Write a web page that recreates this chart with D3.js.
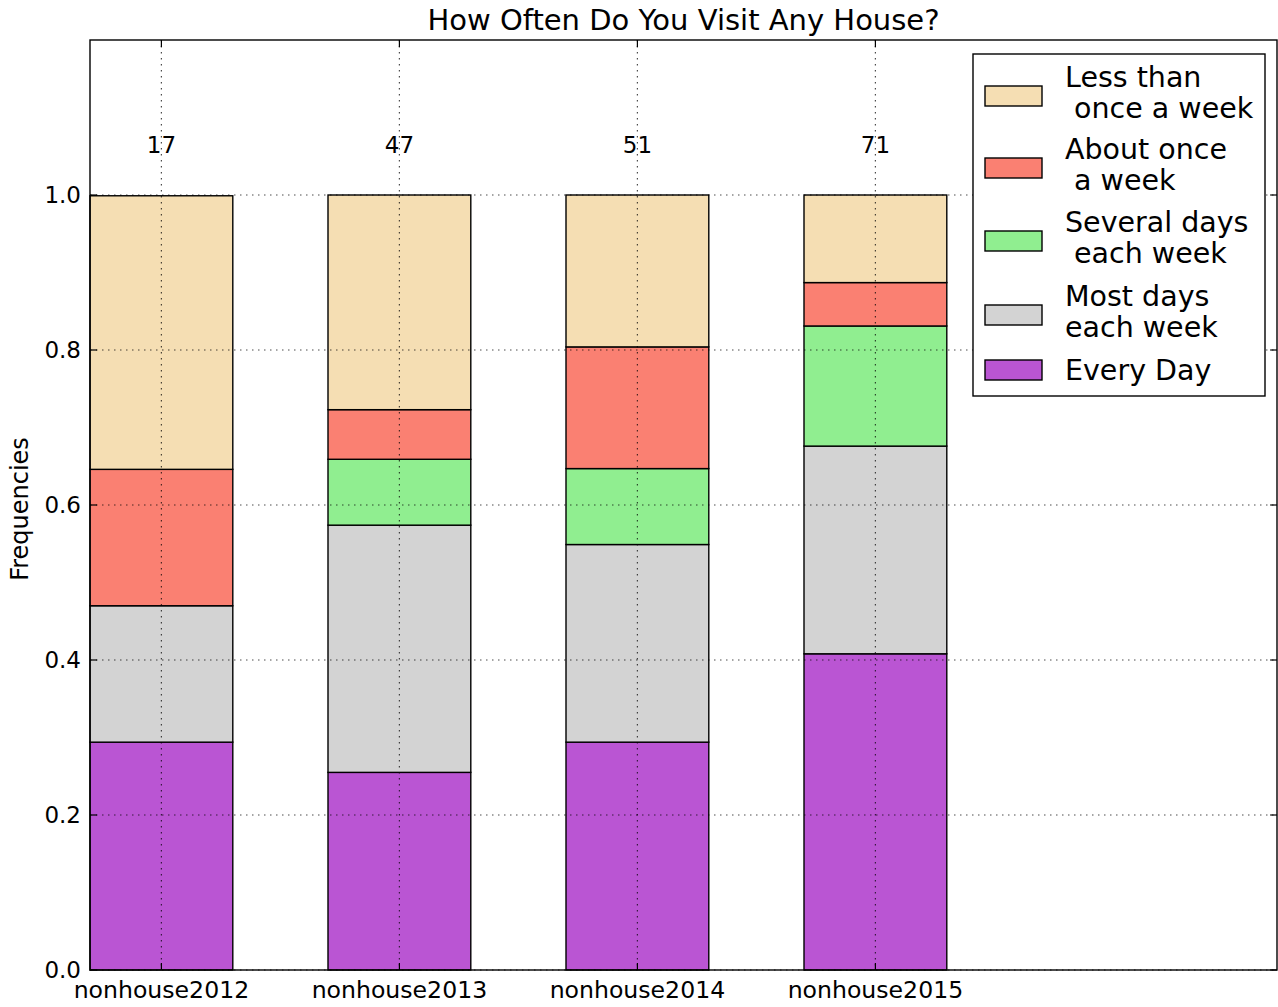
<!DOCTYPE html>
<html><head><meta charset="utf-8">
<script src="https://cdn.jsdelivr.net/npm/d3@7"></script>
<style>body{margin:0;background:#fff}</style>
</head><body>
<svg id="c" width="1278" height="1007"></svg>
<script>
const categories = ["nonhouse2012","nonhouse2013","nonhouse2014","nonhouse2015"];
const counts = [17, 47, 51, 71];
const seriesNames = ["Every Day","Most days\neach week","Several days\n each week","About once\n a week","Less than\n once a week"];
const everyDay    = [0.294, 0.255, 0.294, 0.408];
const mostDays    = [0.176, 0.319, 0.255, 0.268];
const severalDays = [0.000, 0.085, 0.098, 0.155];
const aboutOnce   = [0.176, 0.064, 0.157, 0.056];
const lessThan    = [0.353, 0.277, 0.196, 0.113];
const colors = ["#BA55D3","#D3D3D3","#90EE90","#FA8072","#F5DEB3"];
const yTicks = [0.0,0.2,0.4,0.6,0.8,1.0];

const series = [everyDay, mostDays, severalDays, aboutOnce, lessThan];
const svg = d3.select("#c");
const L=90, R=1277, T=40, B=970;
const x = d3.scaleLinear().domain([0,5]).range([L,L+238*5]);
const y = d3.scaleLinear().domain([0,1.2]).range([B,T]);
const font = "DejaVu Sans, sans-serif";
const barW = 0.6;

// bars
const g = svg.append("g");
categories.forEach((c,i)=>{
  let base = 0;
  series.forEach((s,k)=>{
    const v = s[i];
    if (v > 0) {
      g.append("rect")
        .attr("x", x(i)).attr("width", x(i+barW)-x(i))
        .attr("y", y(base+v)).attr("height", y(base)-y(base+v))
        .attr("fill", colors[k]).attr("stroke","#000").attr("stroke-width",1.4);
    }
    base += v;
  });
});

// grid (on top)
const grid = svg.append("g").attr("stroke","#000").attr("stroke-opacity",0.7).attr("stroke-width",1.2).attr("stroke-dasharray","1.5,4.5");
categories.forEach((c,i)=>{
  grid.append("line").attr("x1",x(i+barW/2)).attr("x2",x(i+barW/2)).attr("y1",T).attr("y2",B);
});
yTicks.forEach(t=>{
  grid.append("line").attr("x1",L).attr("x2",R).attr("y1",y(t)).attr("y2",y(t));
});

// axes frame
svg.append("rect").attr("x",L).attr("y",T).attr("width",R-L).attr("height",B-T)
  .attr("fill","none").attr("stroke","#000").attr("stroke-width",1.4);

// ticks (inward on all sides)
const tk = svg.append("g").attr("stroke","#000").attr("stroke-width",1.2);
yTicks.forEach(t=>{
  tk.append("line").attr("x1",L).attr("x2",L+7).attr("y1",y(t)).attr("y2",y(t));
  tk.append("line").attr("x1",R-7).attr("x2",R).attr("y1",y(t)).attr("y2",y(t));
});
categories.forEach((c,i)=>{
  const cx = x(i+barW/2);
  tk.append("line").attr("x1",cx).attr("x2",cx).attr("y1",B).attr("y2",B-7);
  tk.append("line").attr("x1",cx).attr("x2",cx).attr("y1",T).attr("y2",T+7);
});

// y tick labels
yTicks.forEach(t=>{
  svg.append("text").attr("x",L-9).attr("y",y(t)).attr("dy","0.35em")
    .attr("text-anchor","end").attr("font-family",font).attr("font-size",23)
    .attr("fill","#000").text(t.toFixed(1));
});
// x tick labels
categories.forEach((c,i)=>{
  svg.append("text").attr("x",x(i+barW/2)).attr("y",990).attr("dy","0.35em")
    .attr("text-anchor","middle").attr("font-family",font).attr("font-size",23.6)
    .attr("fill","#000").text(c);
});
// counts
categories.forEach((c,i)=>{
  svg.append("text").attr("x",x(i+barW/2)).attr("y",145).attr("dy","0.35em")
    .attr("text-anchor","middle").attr("font-family",font).attr("font-size",23)
    .attr("fill","#000").text(counts[i]);
});
// title
svg.append("text").attr("x",(L+R)/2).attr("y",20).attr("dy","0.35em").attr("text-anchor","middle")
  .attr("font-family",font).attr("font-size",29).attr("fill","#000")
  .text("How Often Do You Visit Any House?");
// y label
svg.append("text").attr("transform",`translate(20,${(T+B)/2+4}) rotate(-90)`).attr("dy","0.35em")
  .attr("text-anchor","middle").attr("font-family",font).attr("font-size",24)
  .attr("fill","#000").text("Frequencies");

// legend
const lg = svg.append("g");
lg.append("rect").attr("x",973).attr("y",54).attr("width",292).attr("height",342)
  .attr("fill","#fff").attr("stroke","#000").attr("stroke-width",1.4);
const legendOrder = [4,3,2,1,0];
const patchY = [96,168,241,315,370];
legendOrder.forEach((k,j)=>{
  const py = patchY[j];
  lg.append("rect").attr("x",985).attr("y",py-10).attr("width",57).attr("height",20)
    .attr("fill",colors[k]).attr("stroke","#000").attr("stroke-width",1.4);
  const lines = seriesNames[k].split("\n");
  const t = lg.append("text").attr("font-family",font).attr("font-size",28.5).attr("fill","#000")
    .attr("xml:space","preserve");
  const offs = lines.length === 1 ? [0] : [-19, 12];
  lines.forEach((ln,m)=>{
    t.append("tspan").attr("x",1065).attr("y",py+offs[m]).attr("dy","0.35em")
      .style("white-space","pre").text(ln);
  });
});
</script>
</body></html>
